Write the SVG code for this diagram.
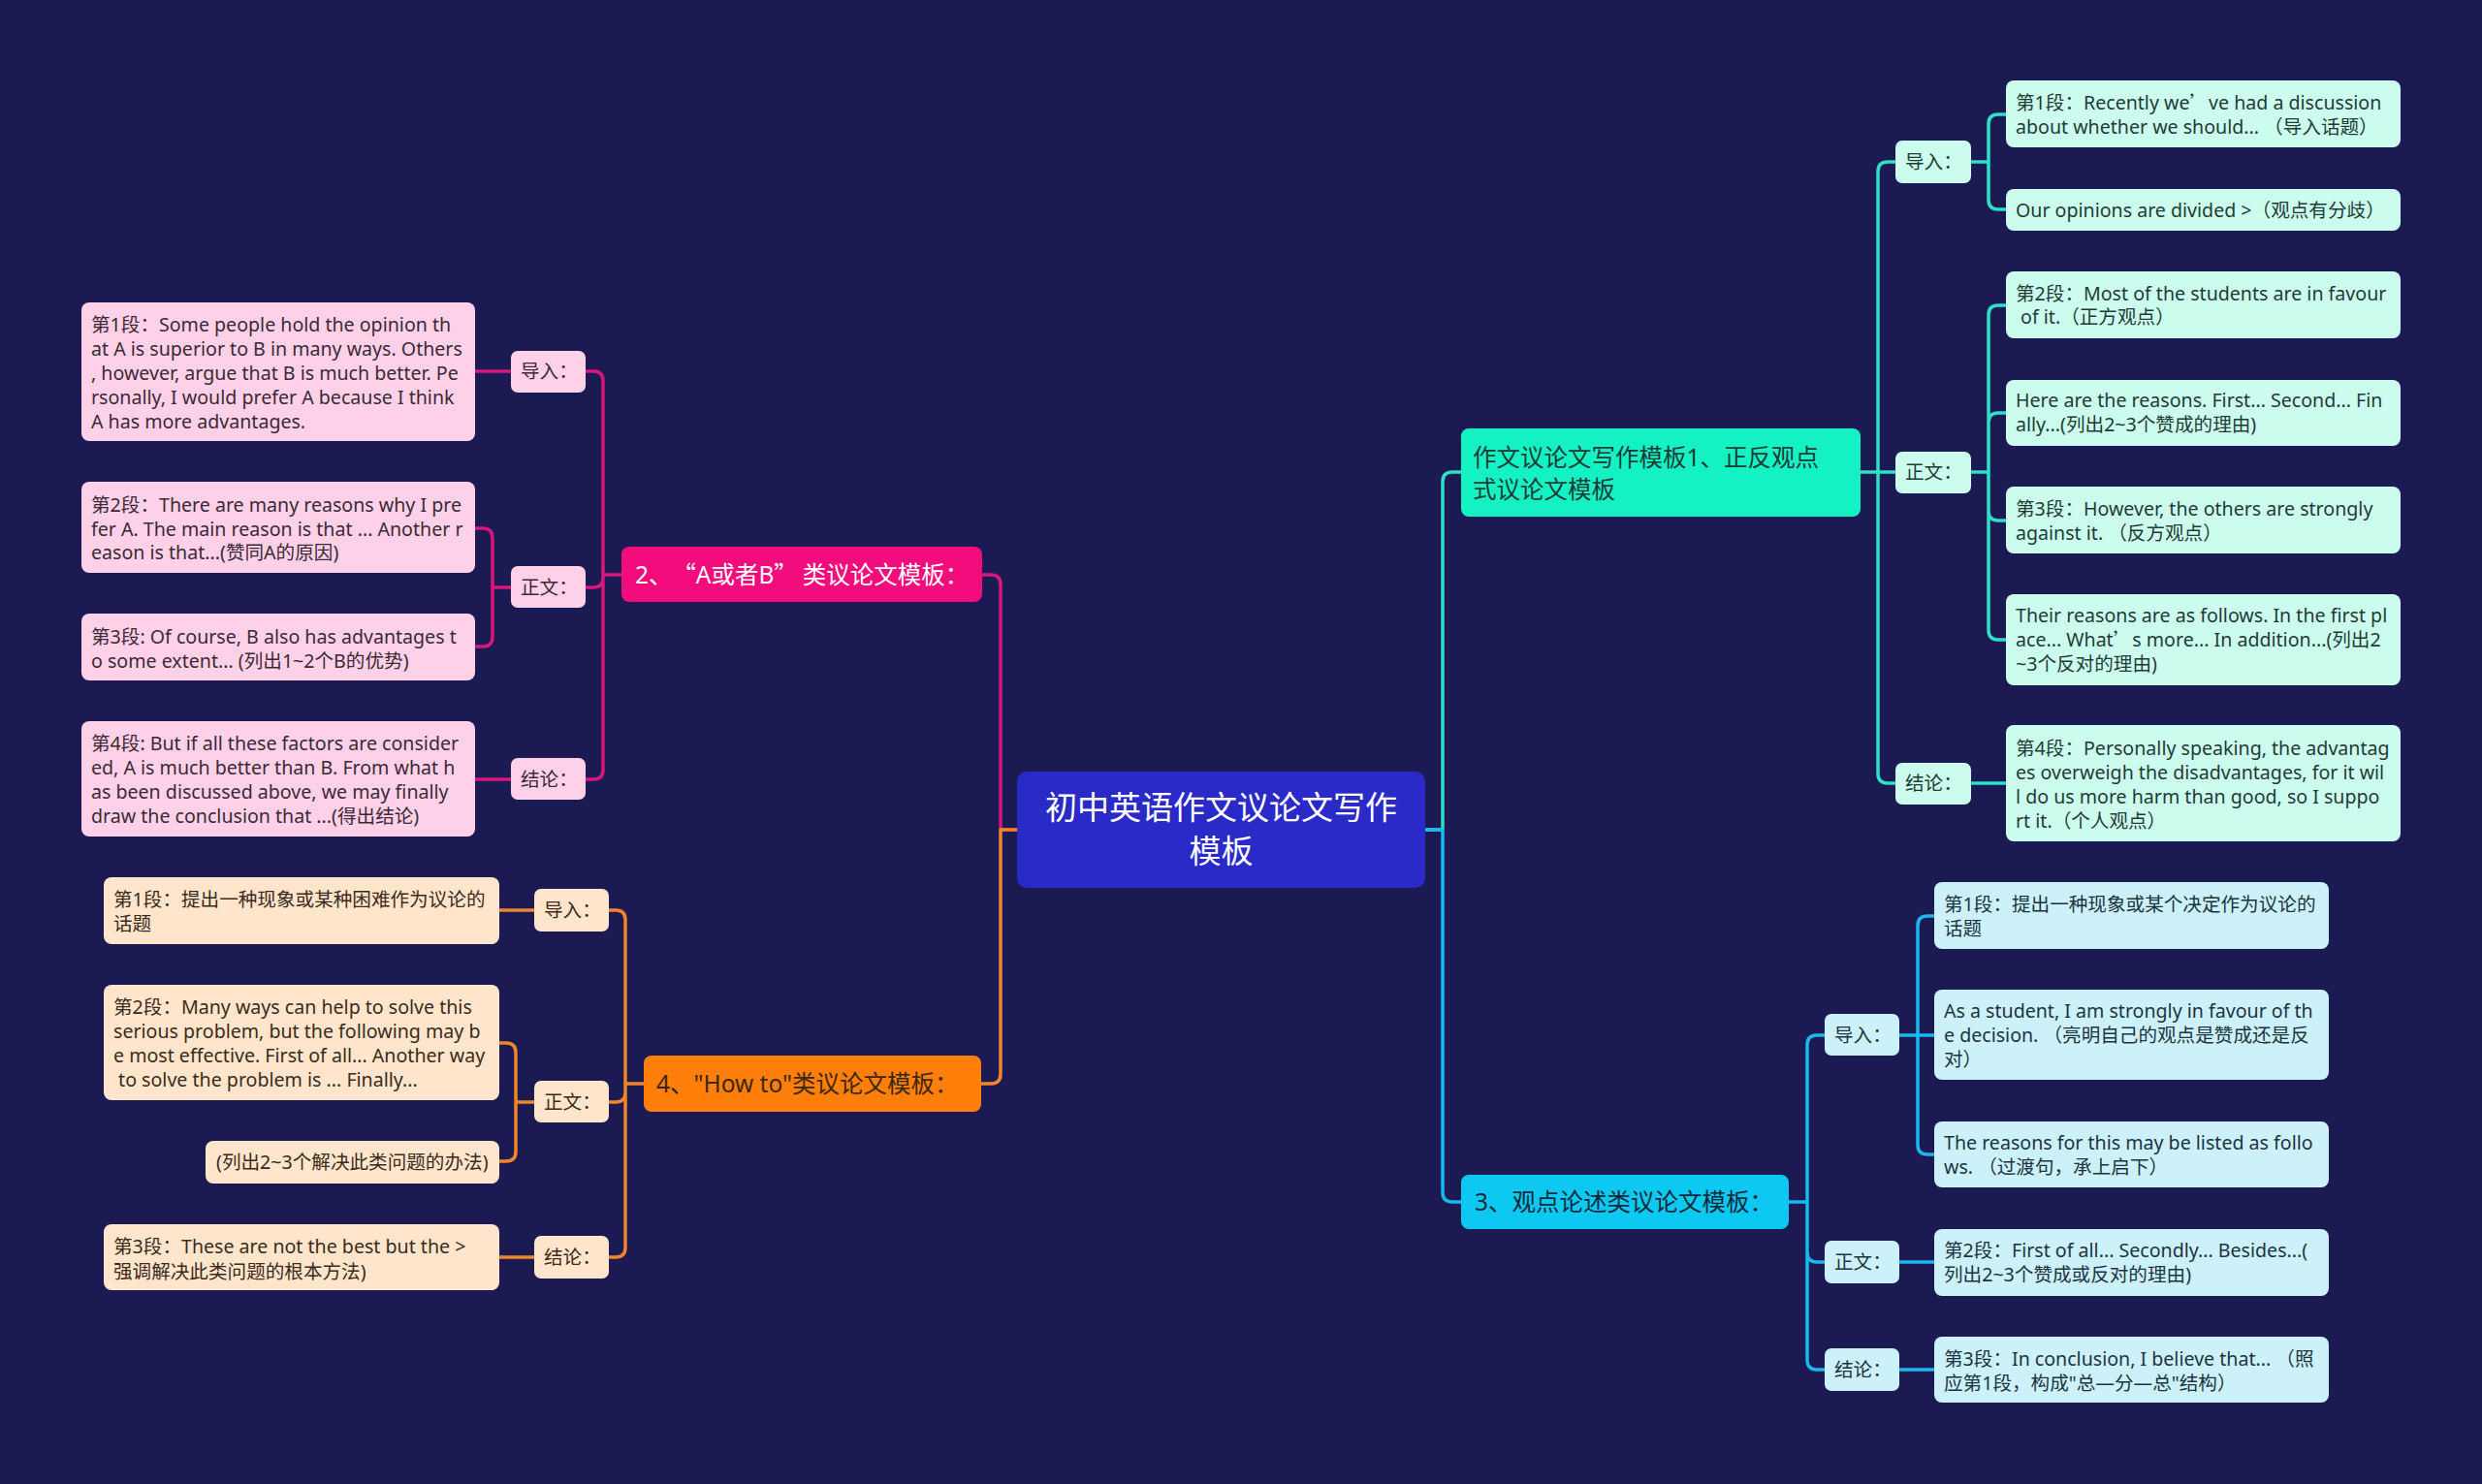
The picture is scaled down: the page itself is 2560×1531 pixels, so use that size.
<svg xmlns="http://www.w3.org/2000/svg" width="2560" height="1531" viewBox="0 0 2560 1531">
<style>
text{font-family:"Noto Sans","Noto Sans CJK SC",sans-serif;font-size:19.6px}
.cjk{font-family:"Noto Sans CJK SC",sans-serif}
.main{font-size:24.5px}
.root{font-size:33px;fill:#ffffff}
.c{fill:none;stroke-width:3.5;stroke-linecap:round;stroke-linejoin:round}
.cp{stroke:#d9167e}.co{stroke:#f0862a}.ct{stroke:#2ee0c8}.cc{stroke:#1ab8ec}
.lp{fill:#ffd1e8}.lo{fill:#ffe5cc}.lt{fill:#ccfcee}.lc{fill:#cdf1fa}
.tp{fill:#3a2a35}.to{fill:#3b2b1b}.tt{fill:#1f3b36}.tc{fill:#1c3440}
</style>
<rect width="2560" height="1531" fill="#1b1a52"/>
<g id="connectors">
<path class="c cp" d="M1049,856 H1032 V603 Q1032,593 1022,593 H1013"/>
<path class="c co" d="M1049,856 H1032 V1108 Q1032,1118 1022,1118 H1012"/>
<path class="c ct" d="M1470,856 H1488 V497 Q1488,487 1498,487 H1507"/>
<path class="c cc" d="M1470,856 H1488 V1230 Q1488,1240 1498,1240 H1507"/>
<path class="c cp" d="M641,593 H622 V393 Q622,383 612,383 H604 M622,593 V596 Q622,606 612,606 H604 M622,593 V794 Q622,804 612,804 H604"/>
<path class="c cp" d="M527,383 H490 M527,606 H508 V555 Q508,545 498,545 H490 M508,606 V657 Q508,667 498,667 H490 M527,804 H490"/>
<path class="c co" d="M664,1118 H645 V949 Q645,939 635,939 H628 M645,1118 V1127 Q645,1137 635,1137 H628 M645,1118 V1287 Q645,1297 635,1297 H628"/>
<path class="c co" d="M551,939 H515 M551,1137 H532 V1086 Q532,1076 522,1076 H515 M532,1137 V1188 Q532,1198 522,1198 H515 M551,1297 H515"/>
<path class="c ct" d="M1919,487 H1937 V177 Q1937,167 1947,167 H1955 M1937,487 H1955 M1937,487 V798 Q1937,808 1947,808 H1955"/>
<path class="c ct" d="M2033,167 H2051 V128 Q2051,118 2061,118 H2069 M2051,167 V206 Q2051,216 2061,216 H2069"/>
<path class="c ct" d="M2033,487 H2051 V325 Q2051,315 2061,315 H2069 M2051,487 V436 Q2051,426 2061,426 H2069 M2051,487 V527 Q2051,537 2061,537 H2069 M2051,487 V650 Q2051,660 2061,660 H2069 M2033,808 H2069"/>
<path class="c cc" d="M1845,1240 H1864 V1078 Q1864,1068 1874,1068 H1882 M1864,1240 V1292 Q1864,1302 1874,1302 H1882 M1864,1240 V1403 Q1864,1413 1874,1413 H1882"/>
<path class="c cc" d="M1959,1068 H1995 M1978,1068 V955 Q1978,945 1988,945 H1995 M1978,1068 V1181 Q1978,1191 1988,1191 H1995 M1959,1302 H1995 M1959,1413 H1995"/>
</g>
<g id="root">
<rect x="1049" y="796" width="421" height="120" rx="10" fill="#2a2ac8"/>
<text class="root" x="1259.5" y="845" text-anchor="middle">初中英语作文议论文写作</text>
<text class="root" x="1259.5" y="890" text-anchor="middle">模板</text>
</g>
<g id="n2">
<rect x="641" y="564" width="372" height="57" rx="8" fill="#f20c7c"/>
<text class="main" x="655" y="602" fill="#ffffff">2、<tspan class="cjk" dx="12">“</tspan>A或者B<tspan class="cjk">”</tspan><tspan dx="5">类议论文模板：</tspan></text>
</g>
<g id="n2-intro">
<rect class="lp" x="527" y="362" width="77" height="43" rx="7"/>
<text class="tp" x="537" y="390">导入：</text>
</g>
<g id="n2-body">
<rect class="lp" x="527" y="584" width="77" height="43" rx="7"/>
<text class="tp" x="537" y="613">正文：</text>
</g>
<g id="n2-concl">
<rect class="lp" x="527" y="782" width="77" height="43" rx="7"/>
<text class="tp" x="537" y="811">结论：</text>
</g>
<g id="p1">
<rect class="lp" x="84" y="312" width="406" height="143" rx="8"/>
<text class="tp"><tspan x="94" y="342">第1段：Some people hold the opinion th</tspan><tspan x="94" y="367">at A is superior to B in many ways. Others</tspan><tspan x="94" y="392">, however, argue that B is much better. Pe</tspan><tspan x="94" y="417">rsonally, I would prefer A because I think</tspan><tspan x="94" y="442">A has more advantages.</tspan></text>
</g>
<g id="p2">
<rect class="lp" x="84" y="497" width="406" height="94" rx="8"/>
<text class="tp"><tspan x="94" y="528">第2段：There are many reasons why I pre</tspan><tspan x="94" y="553">fer A. The main reason is that ... Another r</tspan><tspan x="94" y="577">eason is that...(赞同A的原因)</tspan></text>
</g>
<g id="p3">
<rect class="lp" x="84" y="633" width="406" height="69" rx="8"/>
<text class="tp"><tspan x="94" y="664">第3段: Of course, B also has advantages t</tspan><tspan x="94" y="689">o some extent... (列出1~2个B的优势)</tspan></text>
</g>
<g id="p4">
<rect class="lp" x="84" y="744" width="406" height="119" rx="8"/>
<text class="tp"><tspan x="94" y="774">第4段: But if all these factors are consider</tspan><tspan x="94" y="799">ed, A is much better than B. From what h</tspan><tspan x="94" y="824">as been discussed above, we may finally</tspan><tspan x="94" y="849">draw the conclusion that ...(得出结论)</tspan></text>
</g>
<g id="n4">
<rect x="664" y="1089" width="348" height="58" rx="8" fill="#ff7f0a"/>
<text class="main" x="677" y="1127" fill="#3a2810">4、"How to"类议论文模板：</text>
</g>
<g id="n4-intro">
<rect class="lo" x="551" y="917" width="77" height="44" rx="7"/>
<text class="to" x="561" y="946">导入：</text>
</g>
<g id="n4-body">
<rect class="lo" x="551" y="1115" width="77" height="43" rx="7"/>
<text class="to" x="561" y="1144">正文：</text>
</g>
<g id="n4-concl">
<rect class="lo" x="551" y="1275" width="77" height="44" rx="7"/>
<text class="to" x="561" y="1304">结论：</text>
</g>
<g id="o1">
<rect class="lo" x="107" y="905" width="408" height="69" rx="8"/>
<text class="to"><tspan x="117" y="935">第1段：提出一种现象或某种困难作为议论的</tspan><tspan x="117" y="960">话题</tspan></text>
</g>
<g id="o2">
<rect class="lo" x="107" y="1016" width="408" height="119" rx="8"/>
<text class="to" xml:space="preserve"><tspan x="117" y="1046">第2段：Many ways can help to solve this</tspan><tspan x="117" y="1071">serious problem, but the following may b</tspan><tspan x="117" y="1096">e most effective. First of all... Another way</tspan><tspan x="117" y="1121"> to solve the problem is ... Finally...</tspan></text>
</g>
<g id="o3">
<rect class="lo" x="212" y="1177" width="303" height="44" rx="8"/>
<text class="to" x="223" y="1206">(列出2~3个解决此类问题的办法)</text>
</g>
<g id="o4">
<rect class="lo" x="107" y="1263" width="408" height="68" rx="8"/>
<text class="to"><tspan x="117" y="1293">第3段：These are not the best but the &gt;</tspan><tspan x="117" y="1319">强调解决此类问题的根本方法)</tspan></text>
</g>
<g id="n1">
<rect x="1507" y="442" width="412" height="91" rx="8" fill="#14f2c4"/>
<text class="main" fill="#1d3a35"><tspan x="1519" y="481">作文议论文写作模板1、正反观点</tspan><tspan x="1519" y="514">式议论文模板</tspan></text>
</g>
<g id="n1-intro">
<rect class="lt" x="1955" y="145" width="78" height="44" rx="7"/>
<text class="tt" x="1965" y="174">导入：</text>
</g>
<g id="n1-body">
<rect class="lt" x="1955" y="466" width="78" height="43" rx="7"/>
<text class="tt" x="1965" y="494">正文：</text>
</g>
<g id="n1-concl">
<rect class="lt" x="1955" y="787" width="78" height="43" rx="7"/>
<text class="tt" x="1965" y="815">结论：</text>
</g>
<g id="t1">
<rect class="lt" x="2069" y="83" width="407" height="69" rx="8"/>
<text class="tt"><tspan x="2079" y="113">第1段：Recently we<tspan class="cjk">’</tspan>ve had a discussion</tspan><tspan x="2079" y="138">about whether we should... （导入话题）</tspan></text>
</g>
<g id="t2">
<rect class="lt" x="2069" y="195" width="407" height="43" rx="8"/>
<text class="tt" x="2079" y="224">Our opinions are divided &gt;（观点有分歧）</text>
</g>
<g id="t3">
<rect class="lt" x="2069" y="280" width="407" height="69" rx="8"/>
<text class="tt" xml:space="preserve"><tspan x="2079" y="310">第2段：Most of the students are in favour</tspan><tspan x="2079" y="334"> of it.（正方观点）</tspan></text>
</g>
<g id="t4">
<rect class="lt" x="2069" y="392" width="407" height="68" rx="8"/>
<text class="tt"><tspan x="2079" y="420">Here are the reasons. First... Second... Fin</tspan><tspan x="2079" y="445">ally...(列出2~3个赞成的理由)</tspan></text>
</g>
<g id="t5">
<rect class="lt" x="2069" y="502" width="407" height="69" rx="8"/>
<text class="tt"><tspan x="2079" y="532">第3段：However, the others are strongly</tspan><tspan x="2079" y="557">against it. （反方观点）</tspan></text>
</g>
<g id="t6">
<rect class="lt" x="2069" y="613" width="407" height="94" rx="8"/>
<text class="tt"><tspan x="2079" y="642">Their reasons are as follows. In the first pl</tspan><tspan x="2079" y="667">ace... What<tspan class="cjk">’</tspan>s more... In addition...(列出2</tspan><tspan x="2079" y="692">~3个反对的理由)</tspan></text>
</g>
<g id="t7">
<rect class="lt" x="2069" y="748" width="407" height="120" rx="8"/>
<text class="tt"><tspan x="2079" y="779">第4段：Personally speaking, the advantag</tspan><tspan x="2079" y="804">es overweigh the disadvantages, for it wil</tspan><tspan x="2079" y="829">l do us more harm than good, so I suppo</tspan><tspan x="2079" y="854">rt it.（个人观点）</tspan></text>
</g>
<g id="n3">
<rect x="1507" y="1212" width="338" height="56" rx="8" fill="#0dc8f0"/>
<text class="main" x="1521" y="1249" fill="#0e2a3a">3、观点论述类议论文模板：</text>
</g>
<g id="n3-intro">
<rect class="lc" x="1882" y="1046" width="77" height="43" rx="7"/>
<text class="tc" x="1892" y="1075">导入：</text>
</g>
<g id="n3-body">
<rect class="lc" x="1882" y="1280" width="77" height="44" rx="7"/>
<text class="tc" x="1892" y="1309">正文：</text>
</g>
<g id="n3-concl">
<rect class="lc" x="1882" y="1391" width="77" height="44" rx="7"/>
<text class="tc" x="1892" y="1420">结论：</text>
</g>
<g id="c1">
<rect class="lc" x="1995" y="910" width="407" height="69" rx="8"/>
<text class="tc"><tspan x="2005" y="940">第1段：提出一种现象或某个决定作为议论的</tspan><tspan x="2005" y="965">话题</tspan></text>
</g>
<g id="c2">
<rect class="lc" x="1995" y="1021" width="407" height="93" rx="8"/>
<text class="tc"><tspan x="2005" y="1050">As a student, I am strongly in favour of th</tspan><tspan x="2005" y="1075">e decision. （亮明自己的观点是赞成还是反</tspan><tspan x="2005" y="1100">对）</tspan></text>
</g>
<g id="c3">
<rect class="lc" x="1995" y="1157" width="407" height="68" rx="8"/>
<text class="tc"><tspan x="2005" y="1186">The reasons for this may be listed as follo</tspan><tspan x="2005" y="1211">ws. （过渡句，承上启下）</tspan></text>
</g>
<g id="c4">
<rect class="lc" x="1995" y="1268" width="407" height="69" rx="8"/>
<text class="tc"><tspan x="2005" y="1297">第2段：First of all... Secondly... Besides...(</tspan><tspan x="2005" y="1322">列出2~3个赞成或反对的理由)</tspan></text>
</g>
<g id="c5">
<rect class="lc" x="1995" y="1379" width="407" height="68" rx="8"/>
<text class="tc"><tspan x="2005" y="1409">第3段：In conclusion, I believe that... （照</tspan><tspan x="2005" y="1434">应第1段，构成"总—分—总"结构）</tspan></text>
</g>
</svg>
